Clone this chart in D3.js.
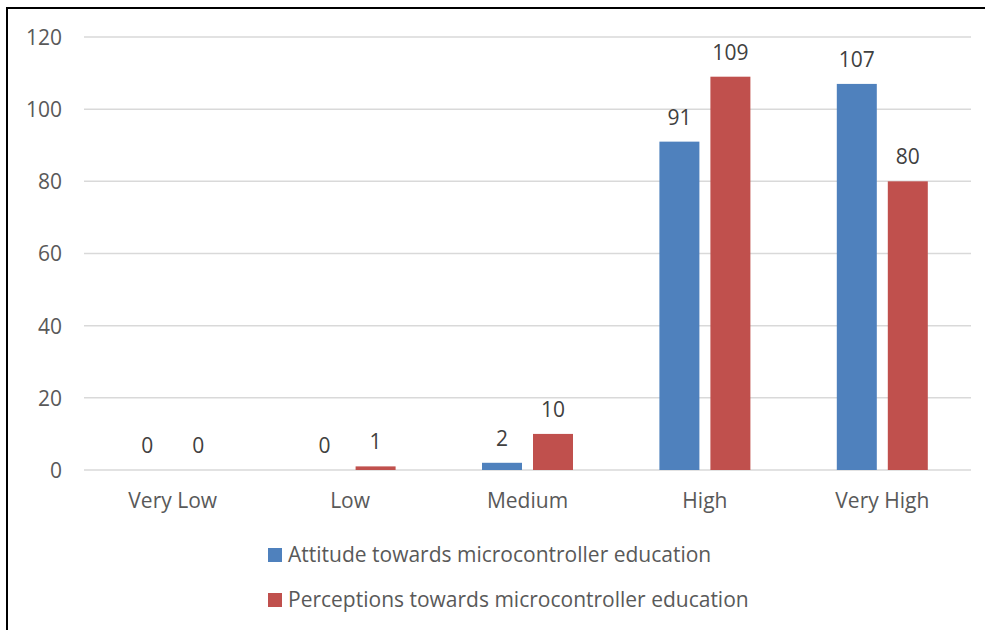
<!DOCTYPE html>
<html>
<head>
<meta charset="utf-8">
<script src="https://cdn.jsdelivr.net/npm/d3@7"></script>
<style>
  html, body { margin: 0; padding: 0; background: #fff; }
  svg { display: block; font-family: "Open Sans", Lato, sans-serif; }
</style>
</head>
<body>
<svg id="chart" width="988" height="630"></svg>
<script>
// Rating levels on the horizontal axis
const categories = ["Very Low", "Low", "Medium", "High", "Very High"];
// Series names and their counts per level
const seriesNames = [
  "Attitude towards microcontroller education",
  "Perceptions towards microcontroller education"
];
const attitudeValues = [0, 0, 2, 91, 107];
const perceptionValues = [0, 1, 10, 109, 80];
const yTicks = [0, 20, 40, 60, 80, 100, 120];
const seriesColors = ["#4F81BD", "#C0504D"];

const FONT = "'Open Sans', Lato, sans-serif";
const FS = 21;
const svg = d3.select("#chart");

// Outer frame (left and top edges of the chart box)
svg.append("path")
  .attr("d", "M7,630 V8 H985")
  .attr("fill", "none")
  .attr("stroke", "#000")
  .attr("stroke-width", 2);

const plot = { left: 84, right: 971, top: 37, bottom: 470 };

const y = d3.scaleLinear().domain([0, 120]).range([plot.bottom, plot.top]);
const x0 = d3.scaleBand().domain(categories).range([plot.left, plot.right]).padding(0);
const groupW = 91;
const x1 = d3.scaleBand().domain(seriesNames)
  .range([x0.bandwidth() / 2 - groupW / 2, x0.bandwidth() / 2 + groupW / 2])
  .paddingInner(0.2157).paddingOuter(0);

// Horizontal gridlines
svg.append("g").selectAll("line").data(yTicks).join("line")
  .attr("x1", plot.left).attr("x2", plot.right)
  .attr("y1", d => y(d)).attr("y2", d => y(d))
  .attr("stroke", "#D9D9D9").attr("stroke-width", 1.5);

// Y axis tick labels
const yAxis = d3.axisLeft(y).tickValues(yTicks).tickSize(0).tickPadding(0);
const yg = svg.append("g").attr("transform", "translate(62,0)").call(yAxis);
yg.select(".domain").remove();
yg.selectAll("text")
  .attr("font-family", FONT)
  .attr("font-size", FS).attr("fill", "#595959").attr("dy", "0.35em");

// X axis category labels
const xAxis = d3.axisBottom(x0).tickSize(0).tickPadding(0);
const xg = svg.append("g").attr("transform", "translate(0,508)").call(xAxis);
xg.select(".domain").remove();
xg.selectAll("text")
  .attr("font-family", FONT)
  .attr("font-size", FS).attr("fill", "#595959").attr("y", 0).attr("dy", 0);

// Bars and value labels
const rows = categories.map((c, i) => ({
  cat: c,
  vals: [attitudeValues[i], perceptionValues[i]]
}));

const groups = svg.append("g").selectAll("g").data(rows).join("g")
  .attr("transform", d => `translate(${x0(d.cat)},0)`);

groups.selectAll("rect")
  .data(d => d.vals.map((v, j) => ({ name: seriesNames[j], v, j })))
  .join("rect")
  .attr("x", d => x1(d.name))
  .attr("width", x1.bandwidth())
  .attr("y", d => y(d.v))
  .attr("height", d => y(0) - y(d.v))
  .attr("fill", d => seriesColors[d.j]);

groups.selectAll("text")
  .data(d => d.vals.map((v, j) => ({ name: seriesNames[j], v, j })))
  .join("text")
  .attr("x", d => x1(d.name) + x1.bandwidth() / 2)
  .attr("y", d => y(d.v) - 17)
  .attr("text-anchor", "middle")
  .attr("font-family", FONT)
  .attr("font-size", FS)
  .attr("fill", "#404040")
  .text(d => d.v);

// Legend
const legend = svg.append("g").selectAll("g").data(seriesNames).join("g")
  .attr("transform", (d, i) => `translate(268,${555 + i * 45})`);
legend.append("rect")
  .attr("x", 0).attr("y", -7).attr("width", 14).attr("height", 14)
  .attr("fill", (d, i) => seriesColors[i]);
legend.append("text")
  .attr("x", 20).attr("y", 0).attr("dy", "0.35em")
  .attr("font-family", FONT)
  .attr("font-size", FS).attr("fill", "#595959")
  .text(d => d);
</script>
</body>
</html>
